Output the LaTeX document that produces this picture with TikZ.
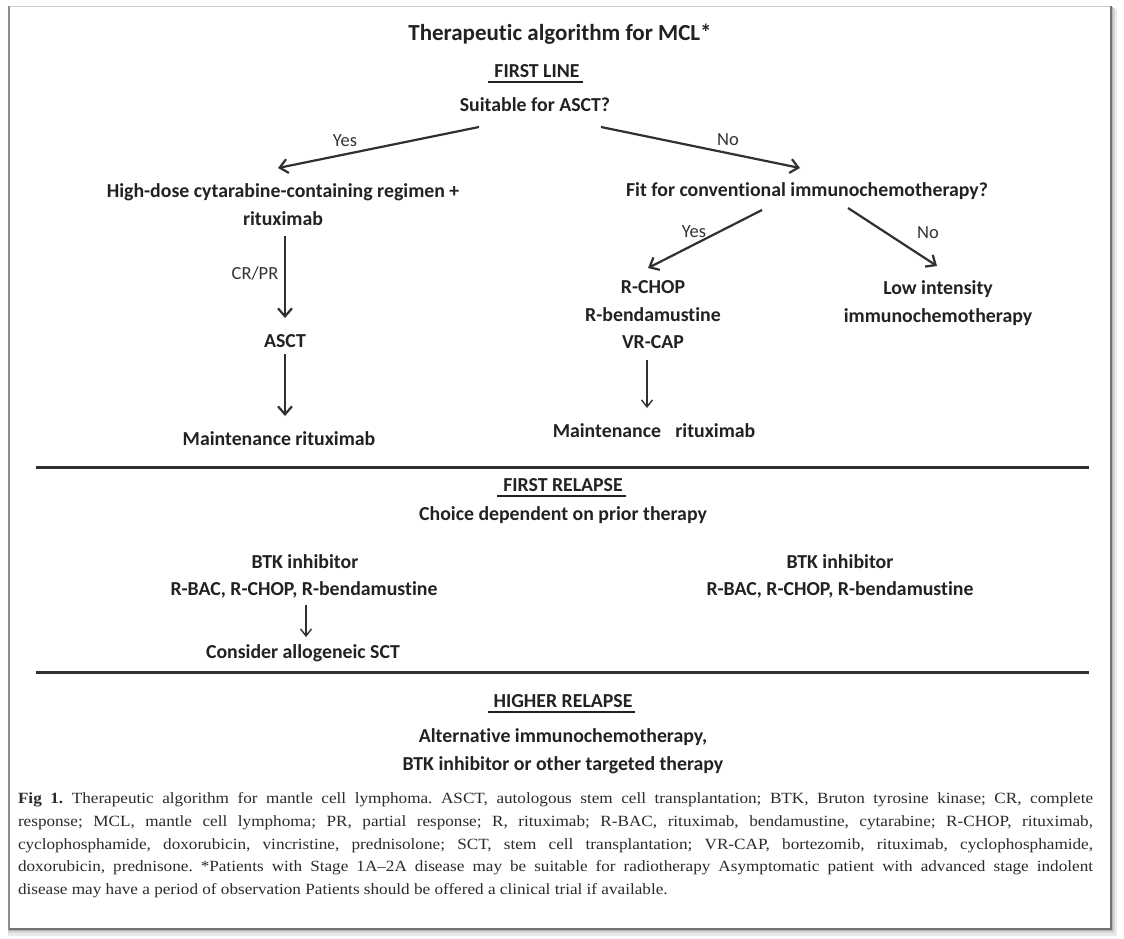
\documentclass[tikz,border=0pt]{standalone}
\usepackage{fontspec}
\setmainfont{Carlito}[Ligatures={NoCommon,NoRare,NoContextual}]
\newfontfamily\capfont{Liberation Serif}[FakeStretch=1.1]
\usetikzlibrary{arrows.meta,calc}
\definecolor{txt}{HTML}{222222}
\definecolor{lbtxt}{HTML}{333333}
\definecolor{arrc}{HTML}{303030}
\definecolor{captxt}{HTML}{2A2A2A}
\begin{document}
\begin{tikzpicture}[x=1pt,y=-1pt,
  every node/.style={inner sep=0pt,outer sep=0pt,text=txt,anchor=base},
  ttl/.style={font=\fontsize{23}{26}\selectfont\bfseries},
  bt/.style={font=\fontsize{19.8}{23}\selectfont\bfseries},
  lb/.style={font=\fontsize{18.5}{21}\selectfont,text=lbtxt},
  conn/.style={draw=arrc,line width=2.2pt,-{Straight Barb[length=8pt,width=14pt,line width=2.2pt]}},
  thin conn/.style={draw=arrc,line width=1.4pt,-{Straight Barb[length=7pt,width=11pt,line width=1.4pt]}},
  uline/.style={draw=txt,line width=1.3pt},
  divider/.style={draw=arrc,line width=3pt}
]
\useasboundingbox (0,0) rectangle (1124,938);
% frame with shadow
\fill[black!8] (8,9) rectangle (1117,936);
\fill[black!16] (8,8) rectangle (1115,933);
\fill[black!30] (8,7) rectangle (1113,931);
\fill[white] (10,7) rectangle (1111,928);
\draw[black!20,line width=1pt] (9,6) -- (1111,6);
\draw[black!45,line width=1.4pt] (9,6) -- (9,929);
\draw[black!55,line width=1.4pt] (1111,6) -- (1111,929) -- (9,929);

% ---------- FIRST LINE ----------
\node[ttl] (title) at (560,40) {Therapeutic algorithm for MCL*};
\node[bt] (fl) at (537,77) {FIRST LINE};
\draw[uline] ([shift={(-6,5)}]fl.base west) -- ([shift={(3,5)}]fl.base east);
\node[bt] (suit) at (535,111) {Suitable for ASCT?};

\node[bt] (hd1) at (283,197) {High-dose cytarabine-containing regimen +};
\node[bt] (hd2) at (283,225) {rituximab};
\node[bt] (asct) at (285,347) {ASCT};
\node[bt] (mL) at (279,445) {Maintenance rituximab};

\node[bt] (fit) at (807,196) {Fit for conventional immunochemotherapy?};
\node[bt] (rchop) at (653,293) {R-CHOP};
\node[bt] (rbend) at (653,321) {R-bendamustine};
\node[bt] (vrcap) at (653,348) {VR-CAP};
\node[bt] (mR) at (654,437) {Maintenance\hspace{0.5em} rituximab};
\node[bt] (low1) at (938,294) {Low intensity};
\node[bt] (low2) at (938,322) {immunochemotherapy};

\draw[conn] ([shift={(-56,16)}]suit.base) -- ([shift={(-5,-29)}]hd1.base);
\node[lb] (yes1) at (345,146) {Yes};
\draw[conn] ([shift={(66,16)}]suit.base) -- ([shift={(-7,-28)}]fit.base);
\node[lb] (no1) at (728,145) {No};
\draw[conn] ([shift={(2,11)}]hd2.base) -- ([shift={(0,-29)}]asct.base);
\node[lb] (crpr) at (255,279) {CR/PR};
\draw[conn] ([shift={(0,7)}]asct.base) -- ([shift={(6,-29)}]mL.base);
\draw[conn] ([shift={(-45,14)}]fit.base) -- ([shift={(-5,-25)}]rchop.base);
\node[lb] (yes2) at (694,237) {Yes};
\draw[conn] ([shift={(41,12)}]fit.base) -- ([shift={(-1,-28)}]low1.base);
\node[lb] (no2) at (928,238) {No};
\draw[thin conn] ([shift={(-6,12)}]vrcap.base) -- ([shift={(-7,-29)}]mR.base);

\draw[divider] (36,467) -- (1089,467);

% ---------- FIRST RELAPSE ----------
\node[bt] (fr) at (563,491) {FIRST RELAPSE};
\draw[uline] ([shift={(-6,5)}]fr.base west) -- ([shift={(3,5)}]fr.base east);
\node[bt] (choice) at (563,520) {Choice dependent on prior therapy};
\node[bt] (btkL) at (305,568) {BTK inhibitor};
\node[bt] (rbacL) at (304,595) {R-BAC, R-CHOP, R-bendamustine};
\node[bt] (cons) at (303,658) {Consider allogeneic SCT};
\node[bt] (btkR) at (840,568) {BTK inhibitor};
\node[bt] (rbacR) at (840,595) {R-BAC, R-CHOP, R-bendamustine};
\draw[thin conn] ([shift={(2,10)}]rbacL.base) -- ([shift={(3,-21)}]cons.base);

\draw[divider] (36,672) -- (1089,672);

% ---------- HIGHER RELAPSE ----------
\node[bt] (hr) at (563,707) {HIGHER RELAPSE};
\draw[uline] ([shift={(-6,5)}]hr.base west) -- ([shift={(3,5)}]hr.base east);
\node[bt] (alt1) at (563,742) {Alternative immunochemotherapy,};
\node[bt] (alt2) at (563,770) {BTK inhibitor or other targeted therapy};

% ---------- caption ----------
\node[anchor=north west,text width=1075pt,align=justify,text=captxt,
  font=\capfont\fontsize{15.6}{22.6}\selectfont\frenchspacing] (cap) at (18,793)
 {\textbf{Fig 1.} Therapeutic algorithm for mantle cell lymphoma. ASCT, autologous stem cell transplantation; BTK, Bruton tyrosine kinase; CR, complete\linebreak
 response; MCL, mantle cell lymphoma; PR, partial response; R, rituximab; R-BAC, rituximab, bendamustine, cytarabine; R-CHOP, rituximab,\linebreak
 cyclophosphamide, doxorubicin, vincristine, prednisolone; SCT, stem cell transplantation; VR-CAP, bortezomib, rituximab, cyclophosphamide,\linebreak
 doxorubicin, prednisone. *Patients with Stage 1A–2A disease may be suitable for radiotherapy Asymptomatic patient with advanced stage indolent\linebreak
 disease may have a period of observation Patients should be offered a clinical trial if available.};
\end{tikzpicture}
\end{document}
